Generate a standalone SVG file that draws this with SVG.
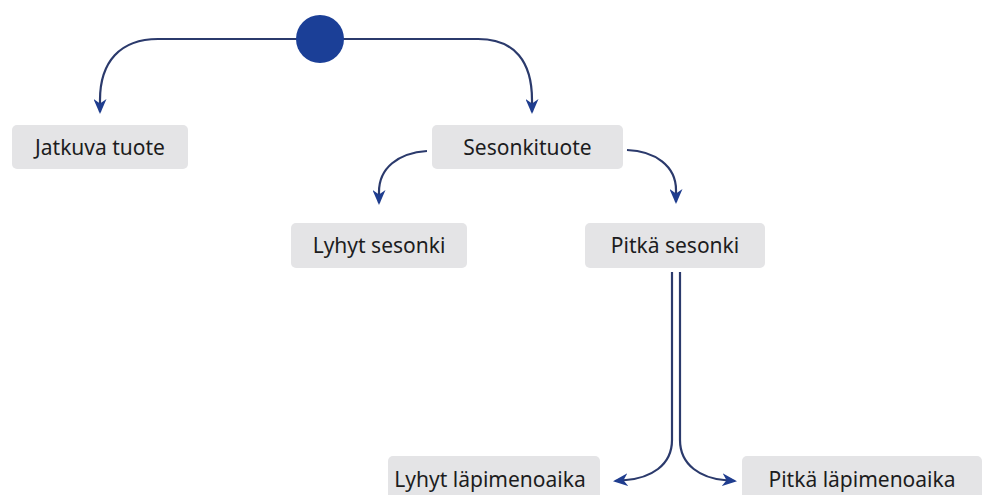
<svg xmlns="http://www.w3.org/2000/svg" width="987" height="495" viewBox="0 0 987 495">
<style>
.box{fill:#e4e4e6}
.lbl{font-family:"Noto Sans","Liberation Sans",sans-serif;font-size:21px;fill:#1c1c20;text-anchor:middle}
.con{fill:none;stroke:#2b3a6c;stroke-width:2.2}
</style>
<defs>
<marker id="ah" viewBox="0 0 15 13" refX="13" refY="6.5" markerWidth="15" markerHeight="13" markerUnits="userSpaceOnUse" orient="auto">
<path d="M0,0 L15,6.5 L0,13 L4.5,6.5 z" fill="#1f3d8f"/>
</marker>
</defs>
<rect width="987" height="495" fill="#ffffff"/>
<g id="connectors">
<path class="con" d="M300 39 H158 C120 39 100 62 100 100 V112" marker-end="url(#ah)"/>
<path class="con" d="M340 39 H478 C515 39 532 62 532 100 V112" marker-end="url(#ah)"/>
<path class="con" d="M427 151 C398 153 379 168 379 192 V203" marker-end="url(#ah)"/>
<path class="con" d="M627 150 C655 151 676 166 676 190 V202" marker-end="url(#ah)"/>
<path class="con" d="M672 272 V440 C672 466 650 478 626 480 L615 481" marker-end="url(#ah)"/>
<path class="con" d="M680 272 V440 C680 466 702 478 724 480 L735 481" marker-end="url(#ah)"/>
</g>
<g id="start"><circle cx="320" cy="39" r="24" fill="#1b3f97"/></g>
<g id="jatkuva"><rect class="box" x="12" y="125" width="176" height="44" rx="5"/><text class="lbl" x="100" y="155">Jatkuva tuote</text></g>
<g id="sesonkituote"><rect class="box" x="432" y="125" width="191" height="44" rx="5"/><text class="lbl" x="527.5" y="155">Sesonkituote</text></g>
<g id="lyhyt-sesonki"><rect class="box" x="291" y="223" width="176" height="45" rx="5"/><text class="lbl" x="379" y="253">Lyhyt sesonki</text></g>
<g id="pitka-sesonki"><rect class="box" x="585" y="223" width="180" height="45" rx="5"/><text class="lbl" x="675" y="253">Pitkä sesonki</text></g>
<g id="lyhyt-lapimenoaika"><rect class="box" x="388" y="456" width="212" height="45" rx="5"/><text class="lbl" x="490" y="487">Lyhyt läpimenoaika</text></g>
<g id="pitka-lapimenoaika"><rect class="box" x="742" y="456" width="240" height="45" rx="5"/><text class="lbl" x="862" y="487">Pitkä läpimenoaika</text></g>
</svg>
